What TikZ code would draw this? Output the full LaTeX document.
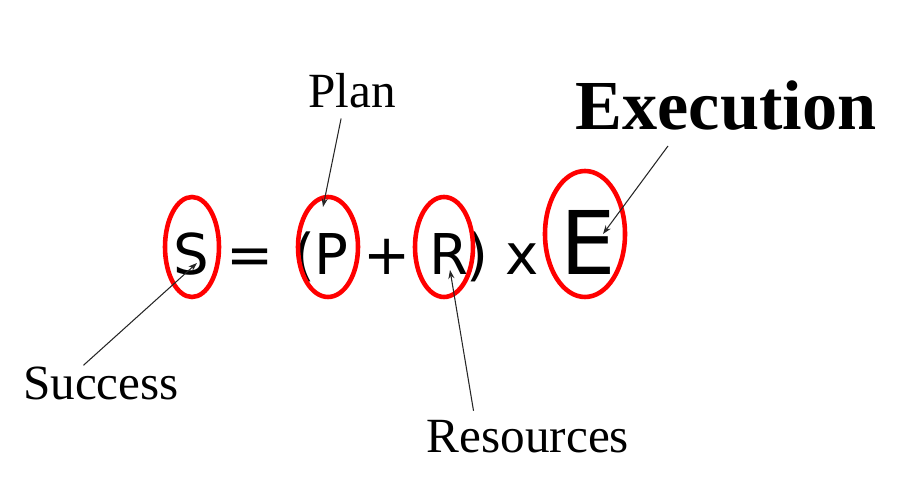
\documentclass[tikz,border=0pt]{standalone}
\usepackage{fontspec}
\setmainfont{Liberation Serif}
\newfontfamily\eqfont{DejaVu Sans}
\usetikzlibrary{arrows.meta}

\begin{document}
\begin{tikzpicture}[x=0.02cm,y=-0.02cm,
  ring/.style={draw=red,line width=2.6pt},
  sym/.style={anchor=base,inner sep=0pt,font=\eqfont\fontsize{32}{40}\selectfont},
  tag/.style={anchor=base,inner sep=1pt,font=\fontsize{28}{32}\selectfont},
  pointer/.style={draw=black!85,line width=0.6pt,-{Stealth[length=5pt,width=3.5pt]}}]
\useasboundingbox (0,0) rectangle (900,499);
\node[sym] (s) at (191,275) {S};
\node[sym] (eq) at (250,275) {=};
\node[sym] (lp) at (304,275) {(};
\node[sym] (p) at (331,275) {P};
\node[sym] (plus) at (387,275) {+};
\node[sym] (r) at (449,275) {R};
\node[sym] (rp) at (477,275) {)};
\node[sym] (times) at (522,275) {x};
\node[sym,font=\eqfont\fontsize{50}{60}\selectfont] (e) at (588,275) {E};
\draw[ring] (192,247) ellipse [x radius=27, y radius=50];
\draw[ring] (328,247) ellipse [x radius=30, y radius=50];
\draw[ring] (444,247) ellipse [x radius=29, y radius=50];
\draw[ring] (585,234) ellipse [x radius=40, y radius=63];
\node[tag] (plan) at (352,108) {Plan};
\node[tag] (success) at (101,400) {Success};
\node[tag] (res) at (528,453) {Resources};
\node[tag,font=\bfseries\fontsize{40}{46}\selectfont] (exec) at (726,130) {Execution};
\coordinate (ptip) at (323,207);
\coordinate (stip) at (197,263);
\coordinate (rtip) at (450,270);
\coordinate (etip) at (603,234);
\draw[pointer] ([xshift=-6.2pt,yshift=-4.5pt]plan.south) -- (ptip);
\draw[pointer] ([xshift=-10pt]success.north) -- (stip);
\draw[pointer] ([xshift=-31pt,yshift=4.5pt]res.north) -- (rtip);
\draw[pointer] ([xshift=-33pt,yshift=-7.4pt]exec.south) -- (etip);
\end{tikzpicture}
\end{document}
